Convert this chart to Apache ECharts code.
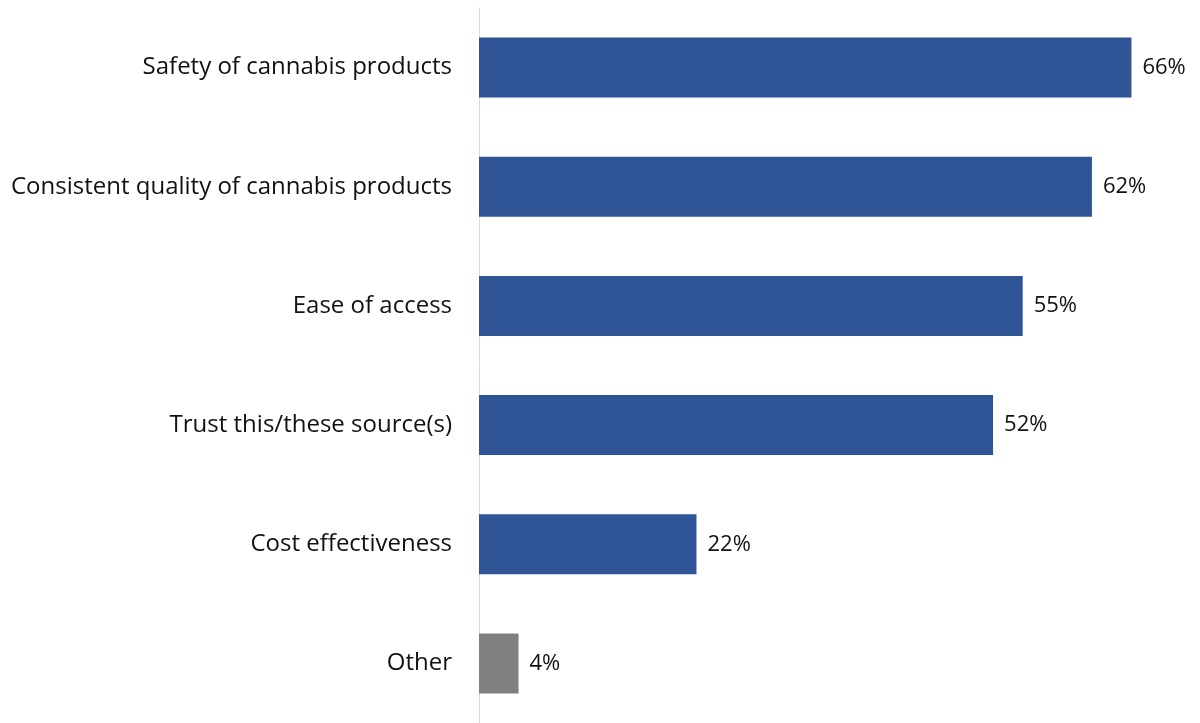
<!DOCTYPE html>
<html><head><meta charset="utf-8">
<script src="https://cdn.jsdelivr.net/npm/echarts@6/dist/echarts.min.js"></script>
<style>html,body{margin:0;padding:0;background:#fff}#c{width:1200px;height:723px}</style>
</head><body><div id="c"></div>
<script>
const categories = ["Safety of cannabis products","Consistent quality of cannabis products","Ease of access","Trust this/these source(s)","Cost effectiveness","Other"];
const values = [66, 62, 55, 52, 22, 4];
const barColors = ["#2F5597","#2F5597","#2F5597","#2F5597","#2F5597","#808080"];
const chart = echarts.init(document.getElementById('c'));
chart.setOption({
  animation:false,
  grid:{left:479, top:8, width:692, height:715, containLabel:false},
  xAxis:{type:'value', min:0, max:70, show:false},
  yAxis:{type:'category', inverse:true, data:categories,
    axisLine:{show:true, lineStyle:{color:'#d9d9d9', width:1}},
    axisTick:{show:false},
    axisLabel:{margin:27, color:'#111', fontSize:24, fontFamily:'Open Sans'}},
  series:[{type:'bar', barWidth:60,
    data: values.map((v,i)=>({value:v, itemStyle:{color:barColors[i]}})),
    label:{show:true, position:'right', distance:11, formatter:'{c}%', color:'#111', fontSize:22, fontFamily:'Open Sans'}}]
});
</script></body></html>
